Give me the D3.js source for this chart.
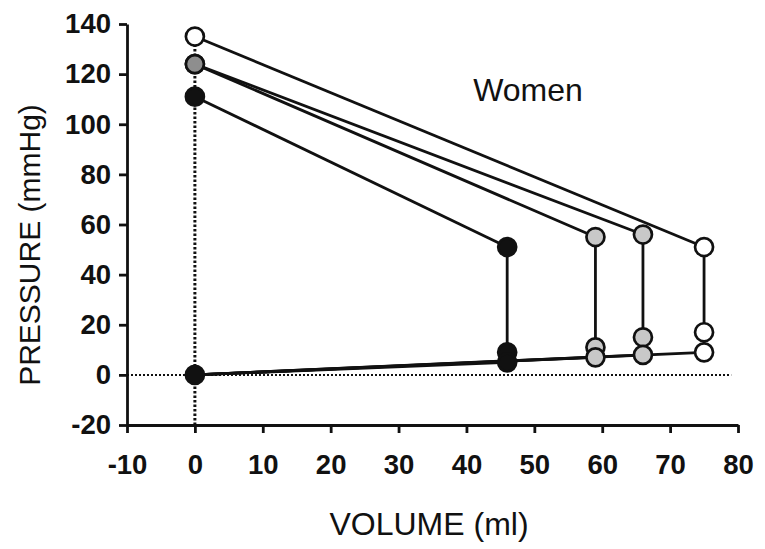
<!DOCTYPE html>
<html>
<head>
<meta charset="utf-8">
<script src="https://cdn.jsdelivr.net/npm/d3@7"></script>
<style>
  body { margin: 0; background: #fff; }
  svg { display: block; font-family: "Liberation Sans", Arial, sans-serif; }
</style>
</head>
<body>
<svg id="chart" width="765" height="549"></svg>
<script>
// one entry per subject loop
const topP = [111, 124, 124, 135]   // isovolumic pressure at V = 0
const esV = [46, 59, 66, 75]        // end-systolic volume
const esP = [51, 55, 56, 51]        // end-systolic pressure
const midP = [9, 11, 15, 17]        // upper diastolic point
const edP = [5, 7, 8, 9]            // end-diastolic pressure
const xTicks = [-10, 0, 10, 20, 30, 40, 50, 60, 70, 80]
const yTicks = [-20, 0, 20, 40, 60, 80, 100, 120, 140]

const fills = ['#111', '#c8c8c8', '#c8c8c8', '#fff']
const topFills = ['#111', '#8e8e8e', '#8e8e8e', '#fff']

const svg = d3.select('#chart')
const x = d3.scaleLinear().domain([-10, 80]).range([127, 738])
const y = d3.scaleLinear().domain([-20, 140]).range([425, 24])

// dotted reference lines
svg.append('line')
  .attr('x1', x(-10)).attr('x2', x(79))
  .attr('y1', y(0)).attr('y2', y(0))
  .attr('stroke', '#111').attr('stroke-width', 2)
  .attr('stroke-dasharray', '2,2')
svg.append('line')
  .attr('x1', x(0)).attr('x2', x(0))
  .attr('y1', y(-20)).attr('y2', y(135))
  .attr('stroke', '#111').attr('stroke-width', 3)
  .attr('stroke-dasharray', '2.5,2')

// axes
const yAxis = svg.append('g')
  .attr('transform', `translate(${x(-10)},0)`)
  .call(d3.axisLeft(y).tickValues(yTicks).tickFormat(d => String(d))
    .tickSize(8).tickSizeOuter(0).tickPadding(8))
const xAxis = svg.append('g')
  .attr('transform', `translate(0,${y(-20)})`)
  .call(d3.axisBottom(x).tickValues(xTicks).tickFormat(d => String(d))
    .tickSize(8).tickSizeOuter(0).tickPadding(21))
for (const a of [xAxis, yAxis]) {
  a.selectAll('path, line').attr('stroke', '#111').attr('stroke-width', 2.8)
  a.selectAll('text')
    .attr('fill', '#111')
    .style('font-size', '27.5px')
    .style('font-weight', 'bold')
    .style('font-family', '"Liberation Sans", Arial, sans-serif')
}

// loop lines
const lines = svg.append('g').attr('stroke', '#111').attr('stroke-width', 2.8)
topP.forEach((p, i) => {
  lines.append('line')
    .attr('x1', x(0)).attr('y1', y(p))
    .attr('x2', x(esV[i])).attr('y2', y(esP[i]))
  lines.append('line')
    .attr('x1', x(esV[i])).attr('y1', y(esP[i]))
    .attr('x2', x(esV[i])).attr('y2', y(edP[i]))
  lines.append('line')
    .attr('x1', x(0)).attr('y1', y(0))
    .attr('x2', x(esV[i])).attr('y2', y(edP[i]))
})

// points
const pts = []
topP.forEach((p, i) => {
  pts.push({ v: 0, p: p, fill: topFills[i] })
  pts.push({ v: esV[i], p: esP[i], fill: fills[i] })
  pts.push({ v: esV[i], p: midP[i], fill: fills[i] })
  pts.push({ v: esV[i], p: edP[i], fill: fills[i] })
})
pts.push({ v: 0, p: 0, fill: '#111' })

svg.append('g').selectAll('circle')
  .data(pts)
  .enter().append('circle')
    .attr('cx', d => x(d.v))
    .attr('cy', d => y(d.p))
    .attr('r', 9)
    .attr('fill', d => d.fill)
    .attr('stroke', '#111')
    .attr('stroke-width', 2.7)

// labels
svg.append('text')
  .attr('x', 528).attr('y', 101)
  .attr('text-anchor', 'middle')
  .style('font-size', '32px')
  .attr('fill', '#111')
  .text('Women')

svg.append('text')
  .attr('x', 429).attr('y', 535)
  .attr('text-anchor', 'middle')
  .style('font-size', '32px')
  .attr('fill', '#111')
  .text('VOLUME (ml)')

svg.append('text')
  .attr('transform', 'translate(40,245) rotate(-90)')
  .attr('text-anchor', 'middle')
  .style('font-size', '30px')
  .attr('fill', '#111')
  .text('PRESSURE (mmHg)')
</script>
</body>
</html>
